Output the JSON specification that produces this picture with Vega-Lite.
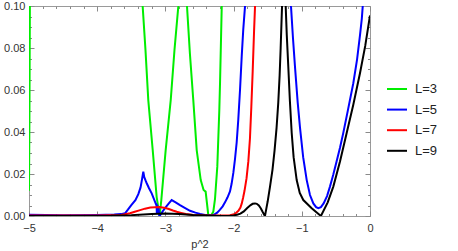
{
  "$schema": "https://vega.github.io/schema/vega-lite/v6.json",
  "width": 341,
  "height": 210,
  "autosize": {"type": "none"},
  "padding": {"left": 29, "top": 6, "right": 88, "bottom": 35},
  "config": {
    "view": {"stroke": "#9a9a9a", "strokeWidth": 1},
    "font": "Liberation Sans",
    "axis": {"domain": false, "grid": false, "zindex": 1, "tickColor": "#8a8a8a", "tickWidth": 1, "labelColor": "#333333", "labelFont": "Liberation Sans", "labelFontSize": 11, "titleFont": "Liberation Sans", "titleFontSize": 11, "titleFontWeight": "normal", "titleColor": "#333333"}
  },
  "data": {"values": [
    {"L":"L=3","x":-5.0,"y":0.012},
    {"L":"L=3","x":-4.994,"y":0.045},
    {"L":"L=3","x":-4.987,"y":0.1},
    {"L":"L=3","x":-4.98,"y":0.14},
    {"L":"L=3","x":-3.36,"y":0.114},
    {"L":"L=3","x":-3.333,"y":0.0997},
    {"L":"L=3","x":-3.292,"y":0.079},
    {"L":"L=3","x":-3.251,"y":0.0552},
    {"L":"L=3","x":-3.186,"y":0.0314},
    {"L":"L=3","x":-3.128,"y":0.009},
    {"L":"L=3","x":-3.085,"y":0.0},
    {"L":"L=3","x":-3.06,"y":0.0076},
    {"L":"L=3","x":-2.996,"y":0.0314},
    {"L":"L=3","x":-2.922,"y":0.0552},
    {"L":"L=3","x":-2.867,"y":0.079},
    {"L":"L=3","x":-2.811,"y":0.0997},
    {"L":"L=3","x":-2.79,"y":0.112},
    {"L":"L=3","x":-2.7,"y":0.112},
    {"L":"L=3","x":-2.683,"y":0.0997},
    {"L":"L=3","x":-2.64,"y":0.077},
    {"L":"L=3","x":-2.591,"y":0.0552},
    {"L":"L=3","x":-2.541,"y":0.0314},
    {"L":"L=3","x":-2.482,"y":0.0171},
    {"L":"L=3","x":-2.44,"y":0.0124},
    {"L":"L=3","x":-2.41,"y":0.0116},
    {"L":"L=3","x":-2.371,"y":0.0005},
    {"L":"L=3","x":-2.335,"y":0.0},
    {"L":"L=3","x":-2.298,"y":0.002},
    {"L":"L=3","x":-2.273,"y":0.008},
    {"L":"L=3","x":-2.239,"y":0.0235},
    {"L":"L=3","x":-2.21,"y":0.05},
    {"L":"L=3","x":-2.199,"y":0.0633},
    {"L":"L=3","x":-2.174,"y":0.0997},
    {"L":"L=3","x":-2.16,"y":0.115},
    {"L":"L=5","x":-5.0,"y":0.0006},
    {"L":"L=5","x":-4.5,"y":0.0004},
    {"L":"L=5","x":-4.0,"y":0.0005},
    {"L":"L=5","x":-3.75,"y":0.0007},
    {"L":"L=5","x":-3.65,"y":0.0009},
    {"L":"L=5","x":-3.592,"y":0.0013},
    {"L":"L=5","x":-3.55,"y":0.003},
    {"L":"L=5","x":-3.5,"y":0.0052},
    {"L":"L=5","x":-3.44,"y":0.0075},
    {"L":"L=5","x":-3.397,"y":0.0104},
    {"L":"L=5","x":-3.365,"y":0.0135},
    {"L":"L=5","x":-3.348,"y":0.0165},
    {"L":"L=5","x":-3.324,"y":0.0211},
    {"L":"L=5","x":-3.31,"y":0.0185},
    {"L":"L=5","x":-3.29,"y":0.0168},
    {"L":"L=5","x":-3.274,"y":0.0156},
    {"L":"L=5","x":-3.24,"y":0.0132},
    {"L":"L=5","x":-3.201,"y":0.0108},
    {"L":"L=5","x":-3.153,"y":0.0068},
    {"L":"L=5","x":-3.13,"y":0.005},
    {"L":"L=5","x":-3.125,"y":0.001},
    {"L":"L=5","x":-3.115,"y":0.0045},
    {"L":"L=5","x":-3.1,"y":0.0035},
    {"L":"L=5","x":-3.088,"y":0.0},
    {"L":"L=5","x":-3.079,"y":0.0003},
    {"L":"L=5","x":-3.04,"y":0.0022},
    {"L":"L=5","x":-3.0,"y":0.004},
    {"L":"L=5","x":-2.95,"y":0.006},
    {"L":"L=5","x":-2.908,"y":0.0076},
    {"L":"L=5","x":-2.85,"y":0.0065},
    {"L":"L=5","x":-2.786,"y":0.0052},
    {"L":"L=5","x":-2.71,"y":0.0038},
    {"L":"L=5","x":-2.639,"y":0.0025},
    {"L":"L=5","x":-2.56,"y":0.0016},
    {"L":"L=5","x":-2.49,"y":0.001},
    {"L":"L=5","x":-2.42,"y":0.0005},
    {"L":"L=5","x":-2.37,"y":0.0003},
    {"L":"L=5","x":-2.33,"y":0.0002},
    {"L":"L=5","x":-2.28,"y":0.0008},
    {"L":"L=5","x":-2.24,"y":0.0016},
    {"L":"L=5","x":-2.199,"y":0.003},
    {"L":"L=5","x":-2.16,"y":0.0046},
    {"L":"L=5","x":-2.126,"y":0.0065},
    {"L":"L=5","x":-2.09,"y":0.0088},
    {"L":"L=5","x":-2.053,"y":0.0117},
    {"L":"L=5","x":-2.03,"y":0.0152},
    {"L":"L=5","x":-2.004,"y":0.0205},
    {"L":"L=5","x":-1.98,"y":0.027},
    {"L":"L=5","x":-1.955,"y":0.035},
    {"L":"L=5","x":-1.931,"y":0.046},
    {"L":"L=5","x":-1.906,"y":0.06},
    {"L":"L=5","x":-1.881,"y":0.076},
    {"L":"L=5","x":-1.858,"y":0.089},
    {"L":"L=5","x":-1.833,"y":0.0997},
    {"L":"L=5","x":-1.82,"y":0.112},
    {"L":"L=5","x":-1.17,"y":0.115},
    {"L":"L=5","x":-1.158,"y":0.0997},
    {"L":"L=5","x":-1.13,"y":0.085},
    {"L":"L=5","x":-1.1,"y":0.0711},
    {"L":"L=5","x":-1.06,"y":0.054},
    {"L":"L=5","x":-1.026,"y":0.042},
    {"L":"L=5","x":-0.98,"y":0.028},
    {"L":"L=5","x":-0.928,"y":0.0171},
    {"L":"L=5","x":-0.88,"y":0.01},
    {"L":"L=5","x":-0.831,"y":0.006},
    {"L":"L=5","x":-0.79,"y":0.0042},
    {"L":"L=5","x":-0.758,"y":0.0037},
    {"L":"L=5","x":-0.72,"y":0.0042},
    {"L":"L=5","x":-0.68,"y":0.006},
    {"L":"L=5","x":-0.63,"y":0.0095},
    {"L":"L=5","x":-0.587,"y":0.014},
    {"L":"L=5","x":-0.54,"y":0.0195},
    {"L":"L=5","x":-0.49,"y":0.026},
    {"L":"L=5","x":-0.44,"y":0.0325},
    {"L":"L=5","x":-0.392,"y":0.0395},
    {"L":"L=5","x":-0.32,"y":0.051},
    {"L":"L=5","x":-0.245,"y":0.0632},
    {"L":"L=5","x":-0.19,"y":0.0745},
    {"L":"L=5","x":-0.147,"y":0.086},
    {"L":"L=5","x":-0.12,"y":0.094},
    {"L":"L=5","x":-0.107,"y":0.0997},
    {"L":"L=5","x":-0.09,"y":0.108},
    {"L":"L=7","x":-5.0,"y":0.0002},
    {"L":"L=7","x":-4.0,"y":0.0002},
    {"L":"L=7","x":-3.65,"y":0.0005},
    {"L":"L=7","x":-3.59,"y":0.0008},
    {"L":"L=7","x":-3.52,"y":0.0013},
    {"L":"L=7","x":-3.45,"y":0.002},
    {"L":"L=7","x":-3.37,"y":0.0028},
    {"L":"L=7","x":-3.3,"y":0.0035},
    {"L":"L=7","x":-3.22,"y":0.004},
    {"L":"L=7","x":-3.15,"y":0.0042},
    {"L":"L=7","x":-3.09,"y":0.0043},
    {"L":"L=7","x":-3.0,"y":0.0038},
    {"L":"L=7","x":-2.95,"y":0.0033},
    {"L":"L=7","x":-2.89,"y":0.0026},
    {"L":"L=7","x":-2.834,"y":0.002},
    {"L":"L=7","x":-2.77,"y":0.0015},
    {"L":"L=7","x":-2.7,"y":0.001},
    {"L":"L=7","x":-2.59,"y":0.0005},
    {"L":"L=7","x":-2.4,"y":0.0002},
    {"L":"L=7","x":-2.2,"y":0.0002},
    {"L":"L=7","x":-2.05,"y":0.0004},
    {"L":"L=7","x":-1.98,"y":0.001},
    {"L":"L=7","x":-1.93,"y":0.0025},
    {"L":"L=7","x":-1.9,"y":0.004},
    {"L":"L=7","x":-1.88,"y":0.006},
    {"L":"L=7","x":-1.86,"y":0.0088},
    {"L":"L=7","x":-1.84,"y":0.012},
    {"L":"L=7","x":-1.81,"y":0.018},
    {"L":"L=7","x":-1.784,"y":0.026},
    {"L":"L=7","x":-1.76,"y":0.037},
    {"L":"L=7","x":-1.74,"y":0.052},
    {"L":"L=7","x":-1.72,"y":0.069},
    {"L":"L=7","x":-1.7,"y":0.088},
    {"L":"L=7","x":-1.686,"y":0.0997},
    {"L":"L=7","x":-1.67,"y":0.114},
    {"L":"L=9","x":-5.0,"y":0.0},
    {"L":"L=9","x":-3.8,"y":0.0001},
    {"L":"L=9","x":-3.5,"y":0.0004},
    {"L":"L=9","x":-3.2,"y":0.001},
    {"L":"L=9","x":-3.0,"y":0.0012},
    {"L":"L=9","x":-2.8,"y":0.001},
    {"L":"L=9","x":-2.6,"y":0.0005},
    {"L":"L=9","x":-2.4,"y":0.0002},
    {"L":"L=9","x":-2.2,"y":0.0},
    {"L":"L=9","x":-2.078,"y":0.0},
    {"L":"L=9","x":-2.0,"y":0.0003},
    {"L":"L=9","x":-1.95,"y":0.0006},
    {"L":"L=9","x":-1.9,"y":0.0011},
    {"L":"L=9","x":-1.85,"y":0.0022},
    {"L":"L=9","x":-1.8,"y":0.0038},
    {"L":"L=9","x":-1.75,"y":0.0052},
    {"L":"L=9","x":-1.72,"y":0.0058},
    {"L":"L=9","x":-1.686,"y":0.006},
    {"L":"L=9","x":-1.66,"y":0.0058},
    {"L":"L=9","x":-1.63,"y":0.005},
    {"L":"L=9","x":-1.6,"y":0.0036},
    {"L":"L=9","x":-1.575,"y":0.002},
    {"L":"L=9","x":-1.55,"y":0.0005},
    {"L":"L=9","x":-1.54,"y":0.0},
    {"L":"L=9","x":-1.52,"y":0.0035},
    {"L":"L=9","x":-1.5,"y":0.007},
    {"L":"L=9","x":-1.466,"y":0.014},
    {"L":"L=9","x":-1.43,"y":0.022},
    {"L":"L=9","x":-1.4,"y":0.031},
    {"L":"L=9","x":-1.37,"y":0.042},
    {"L":"L=9","x":-1.345,"y":0.054},
    {"L":"L=9","x":-1.325,"y":0.067},
    {"L":"L=9","x":-1.31,"y":0.08},
    {"L":"L=9","x":-1.29,"y":0.0997},
    {"L":"L=9","x":-1.28,"y":0.115},
    {"L":"L=9","x":-1.245,"y":0.115},
    {"L":"L=9","x":-1.236,"y":0.0997},
    {"L":"L=9","x":-1.22,"y":0.086},
    {"L":"L=9","x":-1.198,"y":0.0711},
    {"L":"L=9","x":-1.175,"y":0.055},
    {"L":"L=9","x":-1.148,"y":0.0395},
    {"L":"L=9","x":-1.12,"y":0.028},
    {"L":"L=9","x":-1.075,"y":0.0171},
    {"L":"L=9","x":-1.03,"y":0.011},
    {"L":"L=9","x":-0.978,"y":0.0076},
    {"L":"L=9","x":-0.855,"y":0.0037},
    {"L":"L=9","x":-0.72,"y":0.0},
    {"L":"L=9","x":-0.62,"y":0.0065},
    {"L":"L=9","x":-0.538,"y":0.014},
    {"L":"L=9","x":-0.44,"y":0.026},
    {"L":"L=9","x":-0.342,"y":0.0395},
    {"L":"L=9","x":-0.245,"y":0.053},
    {"L":"L=9","x":-0.147,"y":0.068},
    {"L":"L=9","x":-0.07,"y":0.081},
    {"L":"L=9","x":0.0,"y":0.0955}
  ]},
  "layer": [
    {
      "mark": {"type": "line", "clip": true, "strokeWidth": 2},
      "encoding": {
        "x": {"field": "x", "type": "quantitative", "scale": {"domain": [-5, 0], "nice": false, "zero": false},
          "axis": {"orient": "bottom", "title": "p^2", "titlePadding": 5, "format": ".0f", "labelOverlap": false,
            "values": [-5,-4,-3,-2,-1,0], "offset": -5, "tickSize": 5,
            "labelPadding": 6, "labelFlush": false}},
        "y": {"field": "y", "type": "quantitative", "scale": {"domain": [0, 0.1], "nice": false, "zero": false},
          "axis": {"orient": "left", "title": null, "format": ".2f", "labelOverlap": false,
            "values": [0,0.02,0.04,0.06,0.08,0.1], "offset": -5, "tickSize": 5,
            "labelPadding": 4, "labelFlush": false}},
        "color": {"field": "L", "type": "nominal",
          "scale": {"domain": ["L=3", "L=5", "L=7", "L=9"], "range": ["#00ee00", "#0000ff", "#ff0000", "#000000"]},
          "legend": {"orient": "none", "legendX": 357, "legendY": 72, "title": null, "symbolType": "stroke", "symbolSize": 400, "symbolStrokeWidth": 2, "labelFontSize": 13, "labelFont": "Liberation Sans", "labelColor": "#222222", "rowPadding": 2.6, "padding": 0, "labelOffset": 7}}
      }
    },
    {
      "mark": {"type": "point", "opacity": 0},
      "encoding": {
        "x": {"field": "x", "type": "quantitative",
          "axis": {"orient": "top", "title": null, "labels": false, "values": [-5,-4,-3,-2,-1,0], "offset": -5, "tickSize": 5}},
        "y": {"field": "y", "type": "quantitative",
          "axis": {"orient": "right", "title": null, "labels": false, "values": [0,0.02,0.04,0.06,0.08,0.1], "offset": -5, "tickSize": 5}}
      }
    },
    {
      "mark": {"type": "point", "opacity": 0},
      "encoding": {
        "x": {"field": "x", "type": "quantitative",
          "axis": {"orient": "bottom", "title": null, "labels": false, "offset": -2.5, "tickSize": 2.5,
            "values": [-4.8,-4.6,-4.4,-4.2,-3.8,-3.6,-3.4,-3.2,-2.8,-2.6,-2.4,-2.2,-1.8,-1.6,-1.4,-1.2,-0.8,-0.6,-0.4,-0.2]}},
        "y": {"field": "y", "type": "quantitative",
          "axis": {"orient": "left", "title": null, "labels": false, "offset": -2.5, "tickSize": 2.5,
            "values": [0.005,0.01,0.015,0.025,0.03,0.035,0.045,0.05,0.055,0.065,0.07,0.075,0.085,0.09,0.095]}}
      }
    },
    {
      "mark": {"type": "point", "opacity": 0},
      "encoding": {
        "x": {"field": "x", "type": "quantitative",
          "axis": {"orient": "top", "title": null, "labels": false, "offset": -2.5, "tickSize": 2.5,
            "values": [-4.8,-4.6,-4.4,-4.2,-3.8,-3.6,-3.4,-3.2,-2.8,-2.6,-2.4,-2.2,-1.8,-1.6,-1.4,-1.2,-0.8,-0.6,-0.4,-0.2]}},
        "y": {"field": "y", "type": "quantitative",
          "axis": {"orient": "right", "title": null, "labels": false, "offset": -2.5, "tickSize": 2.5,
            "values": [0.005,0.01,0.015,0.025,0.03,0.035,0.045,0.05,0.055,0.065,0.07,0.075,0.085,0.09,0.095]}}
      }
    }
  ],
  "resolve": {"axis": {"x": "independent", "y": "independent"}}
}
